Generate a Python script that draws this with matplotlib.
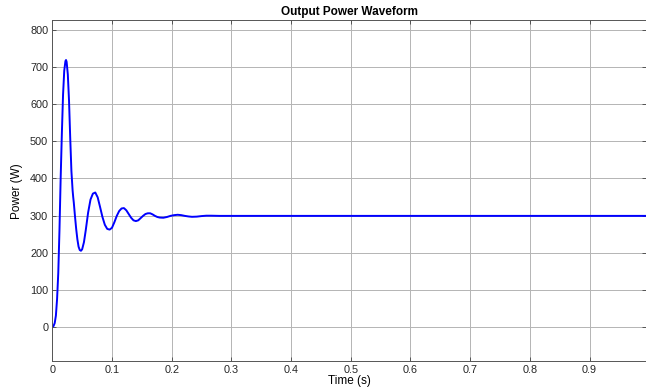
import matplotlib
matplotlib.use("Agg")
import matplotlib.pyplot as plt

plt.rcParams['font.family'] = ['Liberation Sans', 'DejaVu Sans']

time_s = [0.000, 0.002, 0.004, 0.006, 0.008, 0.010, 0.012, 0.014, 0.016, 0.018,
          0.020, 0.022, 0.023, 0.024, 0.026, 0.028, 0.030, 0.032, 0.034, 0.035,
          0.036, 0.038, 0.040, 0.042, 0.044, 0.046, 0.048, 0.050, 0.053, 0.056,
          0.060, 0.064, 0.068, 0.072, 0.076, 0.080, 0.084, 0.088, 0.092, 0.096,
          0.100, 0.104, 0.108, 0.112, 0.116, 0.120, 0.124, 0.128, 0.132, 0.136,
          0.140, 0.144, 0.148, 0.152, 0.156, 0.160, 0.164, 0.168, 0.172, 0.176,
          0.180, 0.186, 0.192, 0.198, 0.204, 0.210, 0.216, 0.222, 0.228, 0.234,
          0.242, 0.250, 0.258, 0.266, 0.280, 0.300, 0.400, 0.500, 0.600, 0.700,
          0.800, 0.900, 0.995]
power_w = [0, 2, 10, 30, 75, 145, 260, 400, 520, 625,
           690, 716, 719, 714, 680, 610, 510, 420, 368, 350,
           335, 298, 264, 236, 216, 207, 205, 209, 228, 260,
           308, 343, 359, 362, 349, 323, 296, 275, 264, 262,
           267, 282, 299, 312, 319, 320, 314, 304, 294, 287,
           285, 287, 293, 299, 304, 306, 306, 303, 299, 296,
           294.5, 294, 296, 299, 301, 302, 301, 299, 297.5, 296.5,
           297, 298.5, 299.5, 299.5, 299, 299, 299, 299, 299, 299,
           299, 299, 299]

x_ticks = [0, 0.1, 0.2, 0.3, 0.4, 0.5, 0.6, 0.7, 0.8, 0.9]
x_tick_labels = ['0', '0.1', '0.2', '0.3', '0.4', '0.5', '0.6', '0.7', '0.8', '0.9']
y_ticks = [0, 100, 200, 300, 400, 500, 600, 700, 800]

fig = plt.figure(figsize=(6.46, 3.90), dpi=100)
ax = fig.add_axes([52.3/646, 29/390, (646-52.3)/646, (361-20.3)/390])

ax.plot(time_s, power_w, color='#0000ff', lw=1.4)

ax.set_xlim(0, 0.9945)
ax.set_ylim(-92, 826)
ax.set_xticks(x_ticks)
ax.set_xticklabels(x_tick_labels)
ax.set_yticks(y_ticks)
ax.grid(True, color='#b4b4b4', lw=0.7)
ax.set_axisbelow(True)
ax.tick_params(direction='in', length=3, width=0.6, colors='#444444',
               labelcolor='#262626', labelsize=7.8, top=True, right=True, pad=3)
for s in ax.spines.values():
    s.set_color('#555555')
    s.set_linewidth(0.7)

ax.set_title('Output Power Waveform', fontsize=8.5, fontweight='bold', pad=4)
ax.set_xlabel('Time (s)', fontsize=8.5, labelpad=0)
ax.set_ylabel('Power (W)', fontsize=8.5, labelpad=5)

fig.savefig('out.png', dpi=100)
